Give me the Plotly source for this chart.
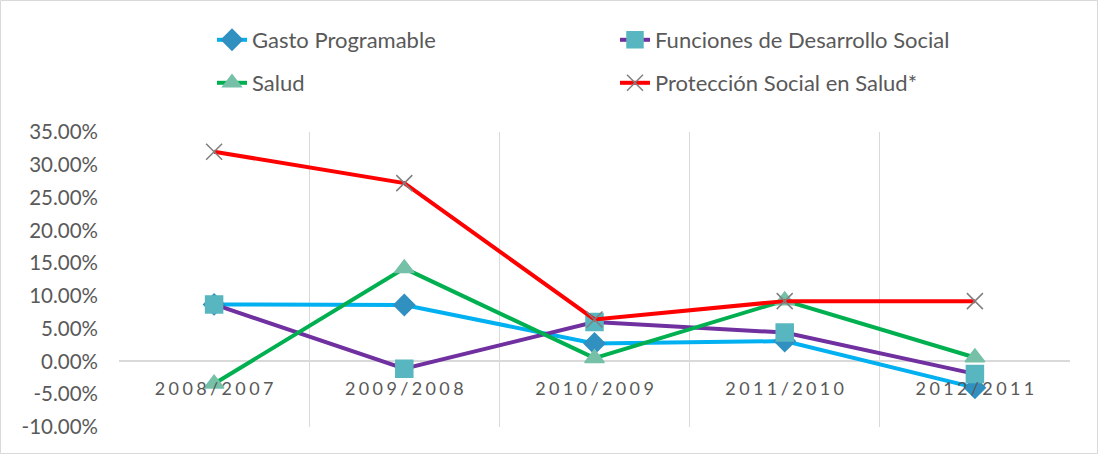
import plotly.graph_objects as go

periodos = ["2008/2007", "2009/2008", "2010/2009", "2011/2010", "2012/2011"]
gasto_programable = [0.087, 0.086, 0.0275, 0.031, -0.040]
funciones_desarrollo = [0.087, -0.011, 0.060, 0.044, -0.019]
salud = [-0.034, 0.142, 0.005, 0.093, 0.006]
proteccion_social = [0.320, 0.272, 0.064, 0.092, 0.092]
y_ticks = [-0.10, -0.05, 0.0, 0.05, 0.10, 0.15, 0.20, 0.25, 0.30, 0.35]
y_etiquetas = [f"{v * 100:.2f}%" for v in y_ticks]

# etiquetas con espaciado entre letras, como en el original
etiquetas = ["\u2009\u200a".join(p) for p in periodos]

W, H = 1099, 456
L, R, T, B = 119, 29, 132, 29
pw = W - L - R
ph = H - T - B

fig = go.Figure()

series = [
    ("Gasto Programable", gasto_programable, "#00B0F0", "diamond", "#3090C0", 16, "legend"),
    ("Funciones de Desarrollo Social", funciones_desarrollo, "#7030A0", "square", "#58B6C0", 17, "legend"),
    ("Salud", salud, "#00B050", "triangle-up", "#76C0A8", 17, "legend2"),
    ("Protección Social en Salud*", proteccion_social, "#FF0000", "x-thin-open", "#7F7F7F", 16, "legend2"),
]
for nombre, vals, col, sym, mcol, msize, leg in series:
    fig.add_trace(go.Scatter(
        x=periodos, y=vals, name=nombre, mode="lines+markers",
        line=dict(color=col, width=4),
        marker=dict(symbol=sym, color=mcol, size=msize,
                    line=dict(color=mcol, width=1.5)),
        legend=leg,
    ))

fig.add_shape(type="rect", xref="paper", yref="paper",
              x0=-(L - 0.5) / pw, x1=1 + (R - 1.5) / pw,
              y0=-(B - 2.5) / ph, y1=1 + (T - 0.5) / ph,
              line=dict(color="#D9D9D9", width=1), layer="below")

legend_comun = dict(orientation="h", xanchor="left", yanchor="middle",
                    x=(212 - L) / pw, entrywidth=358, entrywidthmode="pixels",
                    font=dict(size=22, color="#595959"),
                    bgcolor="rgba(0,0,0,0)")

fig.update_layout(
    width=W, height=H,
    margin=dict(l=L, r=R, t=T, b=B, autoexpand=False),
    paper_bgcolor="white", plot_bgcolor="white",
    font=dict(family="Lato", color="#595959", size=17),
    legend=dict(legend_comun, y=1 + (T - 40) / ph),
    legend2=dict(legend_comun, y=1 + (T - 83) / ph),
    xaxis=dict(
        type="category", range=[-0.5, 4.5],
        tickvals=periodos, ticktext=etiquetas,
        tickson="boundaries", showgrid=True, gridcolor="#D9D9D9", gridwidth=1,
        showline=False, zeroline=False,
        anchor="free", position=0.1 / 0.45,
        ticks="", ticklabelstandoff=15,
        tickfont=dict(size=18, color="#595959"),
    ),
    yaxis=dict(
        range=[-0.10, 0.35], tickvals=y_ticks, ticktext=y_etiquetas,
        showgrid=False, zeroline=True, zerolinecolor="#D9D9D9", zerolinewidth=1.5,
        showline=False, ticks="", ticklabelstandoff=20,
        tickfont=dict(size=20.5, color="#595959"),
    ),
)

fig.write_html("out.html", config={"displayModeBar": False},
               post_script="document.body.style.margin='0';")
